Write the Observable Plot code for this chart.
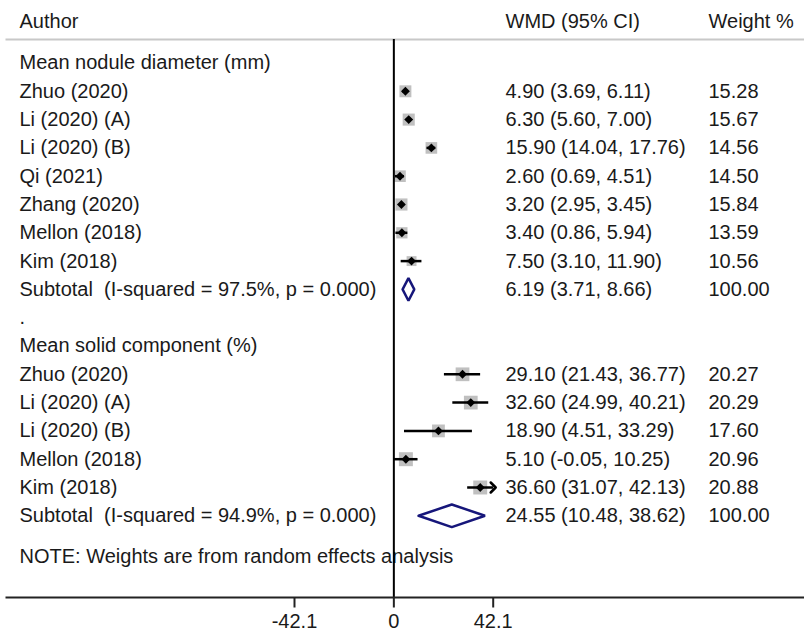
<!DOCTYPE html>
<html>
<head>
<meta charset="utf-8">
<script src="https://cdn.jsdelivr.net/npm/d3@7"></script>
<script src="https://cdn.jsdelivr.net/npm/@observablehq/plot@0.6"></script>
<style>
  html, body { margin: 0; padding: 0; background: #fff; }
  svg text { white-space: pre; }
</style>
</head>
<body>
<div id="chart"></div>
<script>
// ---- data ----
const columnHeaders = ["Author", "WMD (95% CI)", "Weight %"];
const groupNames = ["Mean nodule diameter (mm)", "Mean solid component (%)"];
const studyGroup = [0, 0, 0, 0, 0, 0, 0, 1, 1, 1, 1, 1];
const studyNames = ["Zhuo (2020)", "Li (2020) (A)", "Li (2020) (B)", "Qi (2021)", "Zhang (2020)", "Mellon (2018)", "Kim (2018)",
                    "Zhuo (2020)", "Li (2020) (A)", "Li (2020) (B)", "Mellon (2018)", "Kim (2018)"];
const wmd     = [4.90, 6.30, 15.90, 2.60, 3.20, 3.40, 7.50, 29.10, 32.60, 18.90, 5.10, 36.60];
const lower   = [3.69, 5.60, 14.04, 0.69, 2.95, 0.86, 3.10, 21.43, 24.99, 4.51, -0.05, 31.07];
const upper   = [6.11, 7.00, 17.76, 4.51, 3.45, 5.94, 11.90, 36.77, 40.21, 33.29, 10.25, 42.13];
const weights = [15.28, 15.67, 14.56, 14.50, 15.84, 13.59, 10.56, 20.27, 20.29, 17.60, 20.96, 20.88];
const subtotalLabels = ["Subtotal  (I-squared = 97.5%, p = 0.000)", "Subtotal  (I-squared = 94.9%, p = 0.000)"];
const subWmd    = [6.19, 24.55];
const subLower  = [3.71, 10.48];
const subUpper  = [8.66, 38.62];
const subWeight = [100.00, 100.00];
const separatorLabel = ".";
const noteText = "NOTE: Weights are from random effects analysis";
const xTicks = [-42.1, 0, 42.1];

// ---- build rows ----
const f2 = v => v.toFixed(2);
const textRows = [];   // {row, author, ci, weight}
const studies = [];    // {row, est, lo, hi, w}
const diamonds = [];   // polygon points {g, x, y}
let r = 0;
groupNames.forEach((g, gi) => {
  if (gi > 0) { textRows.push({row: r, author: separatorLabel, ci: "", weight: ""}); r++; }
  textRows.push({row: r, author: g, ci: "", weight: ""}); r++;
  studyNames.forEach((s, i) => {
    if (studyGroup[i] !== gi) return;
    textRows.push({row: r, author: s, ci: `${f2(wmd[i])} (${f2(lower[i])}, ${f2(upper[i])})`, weight: f2(weights[i])});
    studies.push({row: r, est: wmd[i], lo: lower[i], hi: upper[i], w: weights[i]});
    r++;
  });
  textRows.push({row: r, author: subtotalLabels[gi], ci: `${f2(subWmd[gi])} (${f2(subLower[gi])}, ${f2(subUpper[gi])})`, weight: f2(subWeight[gi])});
  const h = 0.4;
  [[subLower[gi], 0], [subWmd[gi], -h], [subUpper[gi], 0], [subWmd[gi], h], [subLower[gi], 0]]
    .forEach(([x, dy]) => diamonds.push({g: gi, x, y: r + dy}));
  r++;
});
const headerRow = -1.45;
const noteRow = r - 1 + 1.45;
const xMax = d3.max(xTicks);
const clipped = studies.map(d => ({...d, hiC: Math.min(d.hi, xMax), arrow: d.hi > xMax}));

// layout
const W = 804, H = 634, mTop = 39, mBottom = 37;
const rowPx = 28.3, row0Px = 62.5;
const axisRow = (H - mBottom - row0Px) / rowPx;   // row position of the axis line
const tickRows = 10 / rowPx;                       // tick length in rows
const tickData = xTicks.map(v => ({v, y1: axisRow, y2: axisRow + tickRows}));

const font = "Arial, 'Liberation Sans', Helvetica, sans-serif";
const ink = "#1a1a1a";

const chart = Plot.plot({
  width: W,
  height: H,
  marginLeft: 6,
  marginRight: 0,
  marginTop: mTop,
  marginBottom: mBottom,
  style: {fontFamily: font, fontSize: "20px", color: ink, background: "#fff"},
  x: {domain: [-42.1, 42.1], range: [294, 492.7]},
  y: {domain: [0, 16], range: [row0Px, row0Px + 16 * rowPx], axis: null},
  r: {domain: [0, 20], range: [0, 7.7]},
  marks: [
    Plot.frame({anchor: "top", stroke: "#c8c8c8", strokeWidth: 2}),
    // text columns
    Plot.text([{row: headerRow}], {y: "row", text: () => columnHeaders[0], frameAnchor: "left", dx: 13, textAnchor: "start", fill: ink, fontSize: 20}),
    Plot.text([{row: headerRow}], {y: "row", text: () => columnHeaders[1], frameAnchor: "left", dx: 499, textAnchor: "start", fill: ink, fontSize: 20}),
    Plot.text([{row: headerRow}], {y: "row", text: () => columnHeaders[2], frameAnchor: "left", dx: 702, textAnchor: "start", fill: ink, fontSize: 20}),
    Plot.text(textRows, {y: "row", text: "author", frameAnchor: "left", dx: 13, textAnchor: "start", fill: ink, fontSize: 20}),
    Plot.text(textRows, {y: "row", text: "ci", frameAnchor: "left", dx: 499, textAnchor: "start", fill: ink, fontSize: 20}),
    Plot.text(textRows, {y: "row", text: "weight", frameAnchor: "left", dx: 702, textAnchor: "start", fill: ink, fontSize: 20}),
    Plot.text([{row: noteRow}], {y: "row", text: () => noteText, frameAnchor: "left", dx: 13, textAnchor: "start", fill: ink, fontSize: 20}),
    // weight boxes
    Plot.dot(studies, {x: "est", y: "row", r: "w", symbol: "square", fill: "#c0c0c0", stroke: null}),
    // CIs
    Plot.ruleY(clipped.filter(d => !d.arrow), {y: "row", x1: "lo", x2: "hiC", stroke: "#000", strokeWidth: 2.5}),
    Plot.link(clipped.filter(d => d.arrow), {y1: "row", y2: "row", x1: "lo", x2: "hiC", stroke: "#000", strokeWidth: 2.5, markerEnd: "arrow"}),
    // point estimates
    Plot.dot(studies, {x: "est", y: "row", r: 4, symbol: "diamond2", fill: "#000", stroke: null}),
    // subtotal diamonds
    Plot.line(diamonds, {x: "x", y: "y", z: "g", stroke: "#16167a", strokeWidth: 2.5, strokeLinejoin: "miter"}),
    // zero line
    Plot.ruleX([0], {stroke: "#000", strokeWidth: 2}),
    // axis
    Plot.frame({anchor: "bottom", stroke: "#222", strokeWidth: 2}),
    Plot.link(tickData, {x1: "v", x2: "v", y1: "y1", y2: "y2", stroke: "#222", strokeWidth: 2}),
    Plot.axisX({ticks: xTicks, tickSize: 0, tickPadding: 16, tickFormat: d => String(d), fontSize: 20, fill: ink, label: null})
  ]
});
document.getElementById("chart").appendChild(chart);
</script>
</body>
</html>
